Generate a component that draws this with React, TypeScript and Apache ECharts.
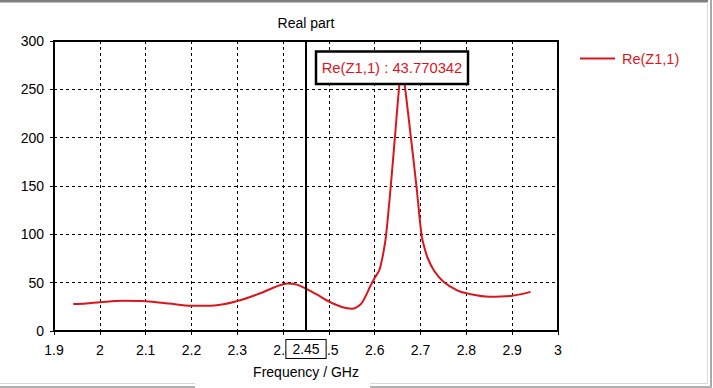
import React, { useEffect, useRef } from "react";
import * as echarts from "echarts";

const chartTitle = "Real part";
const xAxisTitle = "Frequency / GHz";
const seriesName = "Re(Z1,1)";
const markerFreq = 2.45;
const markerValue = 43.770342;

const freqGHz = [
  1.942, 1.97, 2.0, 2.05, 2.1, 2.15, 2.2, 2.25, 2.3, 2.35, 2.38, 2.41, 2.43, 2.45,
  2.48, 2.5, 2.53, 2.55, 2.57, 2.58, 2.59, 2.6, 2.61, 2.615, 2.62, 2.625, 2.635,
  2.644, 2.654, 2.659, 2.665, 2.679, 2.691, 2.702, 2.708, 2.716, 2.73, 2.75, 2.78,
  2.8, 2.85, 2.9, 2.94,
];
const reZ11 = [
  28, 28.5, 29.7, 31.2, 30.7, 28.5, 26.2, 26.5, 31, 39, 45, 49.2, 48, 43.770342,
  36, 30.5, 24.5, 23, 28, 36, 46, 55, 63, 72, 84, 100, 150,
  200, 256, 272, 256, 200, 150, 100, 87, 75, 62, 51, 42,
  39, 35.5, 36.5, 40.5,
];

const FONT = "Liberation Sans";
const RED = "#d9161c";

export default function App() {
  const ref = useRef<HTMLDivElement>(null);
  useEffect(() => {
    if (!ref.current) return;
    const chart = echarts.init(ref.current, undefined, { renderer: "svg" });
    const data = freqGHz.map((f, i) => [f, reZ11[i]]);
    chart.setOption({
      animation: false,
      backgroundColor: "#ffffff",
      textStyle: { fontFamily: FONT },
      grid: {
        left: 54,
        top: 41,
        right: 155,
        bottom: 57,
        show: true,
        borderColor: "#000",
        borderWidth: 2,
        backgroundColor: "transparent",
      },
      legend: {
        left: 575,
        top: 46,
        icon: "rect",
        itemWidth: 35,
        itemHeight: 2,
        data: [seriesName],
        textStyle: { color: RED, fontSize: 14.5, fontFamily: FONT, padding: [0, 0, 0, 2] },
      },
      xAxis: {
        type: "value",
        min: 1.9,
        max: 3,
        interval: 0.1,
        name: xAxisTitle,
        nameLocation: "middle",
        nameGap: 34,
        nameTextStyle: { color: "#000", fontSize: 14, fontFamily: FONT },
        axisLine: { show: true, lineStyle: { color: "#000", width: 2 } },
        axisTick: { show: true, length: 4, lineStyle: { color: "#000", width: 1 } },
        axisLabel: {
          color: "#000",
          fontSize: 14,
          fontFamily: FONT,
          margin: 12,
          formatter: (v: number) => String(+v.toFixed(2)),
        },
        splitLine: { show: true, lineStyle: { color: "#000", width: 1, type: [3, 3] } },
      },
      yAxis: {
        type: "value",
        min: 0,
        max: 300,
        interval: 50,
        axisLine: { show: true, lineStyle: { color: "#000", width: 2 } },
        axisTick: { show: true, length: 4, lineStyle: { color: "#000", width: 1 } },
        axisLabel: { color: "#000", fontSize: 14, fontFamily: FONT, margin: 10 },
        splitLine: { show: true, lineStyle: { color: "#000", width: 1, type: [3, 3] } },
      },
      series: [
        {
          name: seriesName,
          type: "line",
          data,
          smooth: 0.35,
          showSymbol: false,
          symbol: "none",
          color: RED,
          lineStyle: { color: RED, width: 2 },
          markLine: {
            silent: true,
            symbol: "none",
            lineStyle: { color: "#000", width: 2, type: "solid" },
            label: {
              show: true,
              position: "start",
              distance: 9,
              formatter: String(markerFreq),
              color: "#000",
              fontSize: 14,
              fontFamily: FONT,
              backgroundColor: "#fff",
              borderColor: "#000",
              borderWidth: 1,
              padding: [2, 6, 2, 6],
            },
            data: [{ xAxis: markerFreq }],
          },
        },
      ],
      graphic: [
        {
          type: "text",
          x: 306,
          y: 23,
          style: {
            text: chartTitle,
            fill: "#000",
            font: `14px "${FONT}"`,
            textAlign: "center",
            textVerticalAlign: "middle",
          },
        },
        {
          type: "rect",
          z: 100,
          shape: { x: 316, y: 51.5, width: 152, height: 32.5 },
          style: { fill: "#fff", stroke: "#000", lineWidth: 2.5 },
        },
        {
          type: "text",
          z: 101,
          x: 392,
          y: 68,
          style: {
            text: `${seriesName} : ${markerValue}`,
            fill: RED,
            font: `14.8px "${FONT}"`,
            textAlign: "center",
            textVerticalAlign: "middle",
          },
        },
        { type: "rect", z: 100, shape: { x: 0, y: 0, width: 708, height: 2.5 }, style: { fill: "#7f7f7f" } },
        { type: "rect", z: 100, shape: { x: 707, y: 2, width: 1, height: 382 }, style: { fill: "#dcdcdc" } },
        { type: "rect", z: 100, shape: { x: 710, y: 0, width: 2, height: 388 }, style: { fill: "#a8a8a8" } },
        { type: "rect", z: 100, shape: { x: 0, y: 383, width: 195, height: 1 }, style: { fill: "#d8d8d8" } },
        { type: "rect", z: 100, shape: { x: 370, y: 383, width: 338, height: 1 }, style: { fill: "#d8d8d8" } },
        { type: "rect", z: 100, shape: { x: 0, y: 386, width: 195, height: 2 }, style: { fill: "#b0b0b0" } },
        { type: "rect", z: 100, shape: { x: 370, y: 386, width: 342, height: 2 }, style: { fill: "#b0b0b0" } },
      ],
    });
    return () => chart.dispose();
  }, []);
  return (
    <div
      ref={ref}
      style={{ position: "fixed", left: 0, top: 0, width: 713, height: 388, background: "#fff" }}
    />
  );
}
